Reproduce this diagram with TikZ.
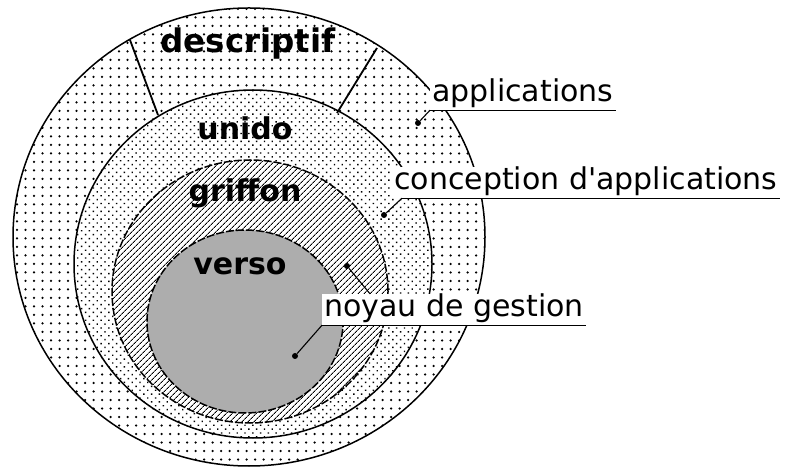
\documentclass[tikz,border=0pt]{standalone}
\usepackage{fontspec}
\setmainfont{DejaVu Sans}
\usetikzlibrary{patterns.meta}

\tikzset{
  ring/.style={line width=1.5pt},
  rough ring/.style={line width=1.5pt, dash pattern=on 8pt off 2pt},
  divider/.style={line width=1.8pt},
  zone/.style={font=\fontsize{30}{34}\selectfont\bfseries, anchor=base},
  callout/.style={fill=white, inner xsep=2pt, inner ysep=1pt, anchor=base west,
    font=\fontsize{30}{34}\selectfont, text height=22pt, text depth=7pt},
  blob/.style={circle, fill=black, inner sep=0pt, minimum size=6pt},
  leader/.style={line width=1.1pt},
}

\begin{document}
\begin{tikzpicture}[x=1pt,y=1pt]
  \useasboundingbox (0,0) rectangle (791,468);

  % couches, de l'exterieur vers le centre
  \fill[white] (249,231) ellipse [x radius=236, y radius=229];
  \fill[pattern={Dots[distance=8.5pt,radius=1.25pt]}] (249,231) ellipse [x radius=236, y radius=229];
  \fill[white] (253,204) ellipse [x radius=179, y radius=174];
  \fill[pattern={Dots[distance=5.5pt,radius=1pt,angle=45]}] (253,204) ellipse [x radius=179, y radius=174];
  \fill[white] (250,176.5) ellipse [x radius=138, y radius=131.5];
  \fill[pattern={Lines[angle=45,distance=4pt,line width=1pt]}] (250,176.5) ellipse [x radius=138, y radius=131.5];
  \fill[black!32] (245,146.5) ellipse [x radius=98, y radius=91.5];

  \draw[ring] (249,231) ellipse [x radius=236, y radius=229];
  \draw[ring] (253,204) ellipse [x radius=179, y radius=174];
  \draw[rough ring] (250,176.5) ellipse [x radius=138, y radius=131.5];
  \draw[rough ring] (245,146.5) ellipse [x radius=98, y radius=91.5];

  % secteur du descriptif
  \draw[divider] (130,428) -- (158,353);
  \draw[divider] (377,420) -- (337,355);

  \node[zone, font=\fontsize{32.5}{36}\selectfont\bfseries] (descriptif) at (248,415) {descriptif};
  \node[zone] (unido) at (245,328) {unido};
  \node[zone] (griffon) at (245,266) {griffon};
  \node[zone] (verso) at (240,193) {verso};

  % legendes
  \node[callout] (applications) at (430,366) {applications};
  \node[callout] (conception) at (392,278) {conception d\textquotesingle applications};
  \node[callout] (noyau) at (322,151) {noyau de gestion};

  \node[blob] (appdot) at (418,345) {};
  \node[blob] (concdot) at (384,253) {};
  \node[blob] (griffdot) at (347,202) {};
  \node[blob] (noyaudot) at (295,112) {};

  \draw[leader] (applications.south west) -- (applications.south east);
  \draw[leader] ([xshift=10pt]conception.south west) -- (conception.south east);
  \draw[leader] (noyau.south west) -- (noyau.south east);

  \draw[leader] (applications.south west) -- (appdot);
  \draw[leader] ([xshift=10pt]conception.south west) -- (concdot);
  \draw[leader] (noyau.south west) -- (noyaudot);
  \draw[leader] ([xshift=48pt]noyau.north west) -- (griffdot);
\end{tikzpicture}
\end{document}
